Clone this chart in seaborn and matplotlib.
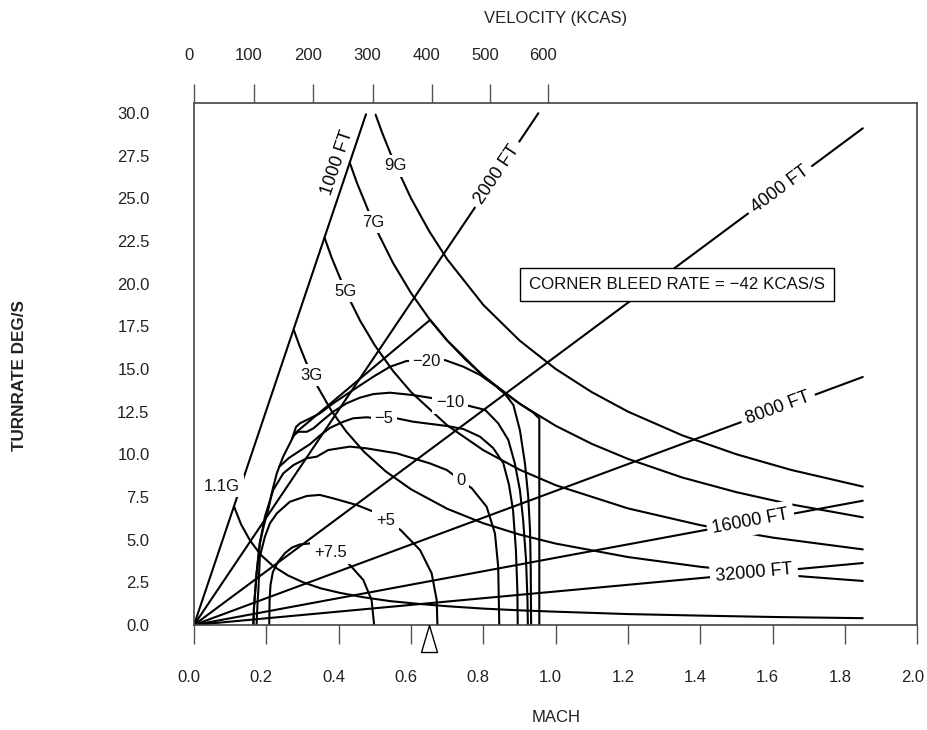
import numpy as np
import pandas as pd
import matplotlib
matplotlib.use("Agg")
import matplotlib.pyplot as plt
import seaborn as sns
from matplotlib import font_manager
from matplotlib.transforms import ScaledTranslation

# ---------------- data (Mach, turn rate deg/s) ----------------
radius_labels = ["1000 FT", "2000 FT", "4000 FT", "8000 FT", "16000 FT", "32000 FT"]
radius_end_mach = [0.4755, 0.952, 1.849, 1.849, 1.849, 1.849]
radius_end_tr = [29.92, 29.98, 29.10, 14.53, 7.28, 3.63]
radius_label_mach = [0.396, 0.837, 1.620, 1.615, 1.539, 1.548]
radius_label_tr = [27.07, 26.40, 25.50, 12.70, 6.06, 3.05]

g9_mach = [0.502, 0.52, 0.55, 0.60, 0.65, 0.70, 0.80, 0.90, 1.00, 1.10, 1.20, 1.35, 1.50, 1.65, 1.849]
g9_tr = [29.90, 28.85, 27.27, 25.00, 23.08, 21.43, 18.75, 16.67, 15.00, 13.64, 12.50, 11.11, 10.00, 9.09, 8.11]
g7_mach = [0.431, 0.45, 0.50, 0.55, 0.60, 0.65, 0.70, 0.80, 0.90, 1.00, 1.10, 1.20, 1.35, 1.50, 1.65, 1.849]
g7_tr = [27.07, 25.93, 23.34, 21.22, 19.45, 17.95, 16.67, 14.59, 12.97, 11.67, 10.61, 9.73, 8.64, 7.78, 7.07, 6.31]
g5_mach = [0.361, 0.38, 0.42, 0.46, 0.50, 0.55, 0.60, 0.70, 0.80, 0.90, 1.00, 1.20, 1.40, 1.60, 1.849]
g5_tr = [22.69, 21.55, 19.50, 17.80, 16.38, 14.89, 13.65, 11.70, 10.24, 9.10, 8.19, 6.83, 5.85, 5.12, 4.43]
g3_mach = [0.276, 0.29, 0.31, 0.34, 0.38, 0.42, 0.47, 0.53, 0.60, 0.70, 0.80, 0.90, 1.00, 1.20, 1.40, 1.60, 1.849]
g3_tr = [17.28, 16.45, 15.39, 14.03, 12.55, 11.36, 10.15, 9.00, 7.95, 6.81, 5.96, 5.30, 4.77, 3.98, 3.41, 2.98, 2.58]
g11_mach = [0.111, 0.13, 0.155, 0.185, 0.219, 0.26, 0.302, 0.35, 0.404, 0.47, 0.542, 0.62, 0.70, 0.80, 0.90, 1.00, 1.20, 1.40, 1.60, 1.849]
g11_tr = [6.93, 5.90, 4.95, 4.10, 3.45, 2.90, 2.50, 2.15, 1.88, 1.62, 1.40, 1.24, 1.10, 0.96, 0.86, 0.78, 0.64, 0.55, 0.47, 0.40]

g_labels = ["9G", "7G", "5G", "3G", "1.1G"]
g_label_mach = [0.557, 0.495, 0.420, 0.326, 0.0774]
g_label_tr = [26.90, 23.60, 19.55, 14.63, 8.14]

ps_p75_mach = [0.208, 0.209, 0.2115, 0.218, 0.232, 0.252, 0.271, 0.293, 0.325, 0.348, 0.376, 0.427, 0.468, 0.491, 0.498]
ps_p75_tr = [0.00, 1.46, 2.34, 3.10, 3.69, 4.22, 4.54, 4.72, 4.79, 4.69, 4.28, 3.61, 2.64, 1.46, 0.00]
ps_p5_mach = [0.173, 0.176, 0.178, 0.182, 0.196, 0.210, 0.229, 0.265, 0.312, 0.348, 0.385, 0.450, 0.496, 0.528, 0.571, 0.625, 0.657, 0.671, 0.673]
ps_p5_tr = [0.00, 1.46, 2.05, 4.00, 5.17, 5.96, 6.54, 7.22, 7.56, 7.62, 7.42, 7.03, 6.64, 6.15, 5.57, 4.39, 3.03, 1.46, 0.00]
ps_0_mach = [0.164, 0.166, 0.173, 0.182, 0.196, 0.219, 0.247, 0.275, 0.312, 0.339, 0.371, 0.431, 0.477, 0.560, 0.652, 0.699, 0.738, 0.768, 0.809, 0.832, 0.841, 0.844]
ps_0_tr = [0.00, 1.07, 3.03, 4.79, 6.34, 7.91, 8.89, 9.37, 9.77, 9.86, 10.25, 10.45, 10.35, 10.06, 9.47, 9.08, 8.47, 8.01, 6.93, 5.37, 3.42, 0.00]
ps_m5_mach = [0.235, 0.262, 0.292, 0.321, 0.348, 0.376, 0.413, 0.440, 0.477, 0.525, 0.560, 0.606, 0.699, 0.745, 0.791, 0.827, 0.855, 0.871, 0.882, 0.890, 0.894, 0.895]
ps_m5_tr = [9.26, 9.78, 10.20, 10.60, 11.10, 11.55, 11.91, 12.11, 12.17, 12.07, 12.11, 11.91, 11.66, 11.48, 11.03, 10.37, 9.49, 8.20, 6.74, 4.39, 2.05, 0.00]
ps_m10_mach = [0.274, 0.288, 0.312, 0.330, 0.357, 0.385, 0.422, 0.459, 0.496, 0.542, 0.606, 0.662, 0.708, 0.758, 0.805, 0.841, 0.869, 0.887, 0.901, 0.910, 0.918, 0.922, 0.923]
ps_m10_tr = [11.07, 11.32, 11.32, 11.52, 12.01, 12.50, 12.99, 13.32, 13.53, 13.61, 13.47, 13.28, 13.03, 12.85, 12.60, 11.82, 10.84, 9.47, 7.91, 6.15, 3.81, 1.46, 0.00]
ps_m20_mach = [0.271, 0.282, 0.293, 0.321, 0.348, 0.385, 0.440, 0.496, 0.542, 0.588, 0.643, 0.694, 0.745, 0.791, 0.837, 0.860, 0.883, 0.901, 0.915, 0.924, 0.929, 0.931, 0.932]
ps_m20_tr = [10.90, 11.60, 11.82, 12.11, 12.40, 12.99, 13.77, 14.55, 15.13, 15.47, 15.44, 15.52, 15.13, 14.65, 13.96, 13.53, 12.89, 11.42, 9.47, 7.52, 5.57, 3.22, 0.00]

# flight envelope: lift limit, corner, structural limit, Mach/q limit
env_mach = [0.164, 0.166, 0.173, 0.182, 0.1935, 0.205, 0.217, 0.229, 0.246, 0.265, 0.279, 0.6525, 0.70, 0.75, 0.80, 0.85, 0.90, 0.938, 0.9547, 0.9547]
env_tr = [0.00, 1.07, 3.03, 4.79, 5.86, 6.74, 7.91, 8.89, 9.84, 10.64, 11.23, 17.87, 16.67, 15.56, 14.59, 13.73, 12.97, 12.44, 12.10, 0.00]

ps_labels = ["+7.5", "+5", "0", "\u22125", "\u221210", "\u221220"]
ps_label_mach = [0.3774, 0.5294, 0.738, 0.525, 0.708, 0.643]
ps_label_tr = [4.22, 6.15, 8.47, 12.07, 13.03, 15.44]

corner_mach = [0.649]
corner_text = "CORNER BLEED RATE = \u221242 KCAS/S"
corner_box_mach, corner_box_tr = 1.3354, 19.95

mach_ticks = [0.0, 0.2, 0.4, 0.6, 0.8, 1.0, 1.2, 1.4, 1.6, 1.8, 2.0]
tr_ticks = [0.0, 2.5, 5.0, 7.5, 10.0, 12.5, 15.0, 17.5, 20.0, 22.5, 25.0, 27.5, 30.0]
kcas_labels = ["0", "100", "200", "300", "400", "500", "600"]
kcas_tick_mach = [0.0, 0.166, 0.330, 0.494, 0.658, 0.819, 0.980]

# ---------------- style ----------------
sns.set_style("white")
names = {f.name for f in font_manager.fontManager.ttflist}
BASE = "Liberation Sans" if "Liberation Sans" in names else "DejaVu Sans"
NARROW = "Liberation Sans Narrow" if "Liberation Sans Narrow" in names else BASE
plt.rcParams["font.family"] = [BASE, "DejaVu Sans"]

fig = plt.figure(figsize=(9.27, 7.30), dpi=100)
ax = fig.add_axes([194 / 927, 105 / 730, 723.4 / 927, 522.3 / 730])
ax.set_xlim(0, 2.0)
ax.set_ylim(0, 30.6)

LW = 1.5
def curve(xs, ys, lw=LW):
    sns.lineplot(x=xs, y=ys, ax=ax, color="black", linewidth=lw,
                 sort=False, estimator=None, legend=False)

# radius lines
for xe, ye in zip(radius_end_mach, radius_end_tr):
    curve([0.0, xe], [0.0, ye])

# G lines
for xs, ys in [(g9_mach, g9_tr), (g7_mach, g7_tr), (g5_mach, g5_tr),
               (g3_mach, g3_tr), (g11_mach, g11_tr)]:
    curve(xs, ys)

# Ps contours
for xs, ys in [(ps_p75_mach, ps_p75_tr), (ps_p5_mach, ps_p5_tr), (ps_0_mach, ps_0_tr),
               (ps_m5_mach, ps_m5_tr), (ps_m10_mach, ps_m10_tr), (ps_m20_mach, ps_m20_tr)]:
    curve(xs, ys)

# envelope
curve(env_mach, env_tr)

# ---------------- labels ----------------
box = dict(boxstyle="square,pad=0.22", fc="white", ec="none")
for lab, x, y, xe, ye in zip(radius_labels, radius_label_mach, radius_label_tr,
                             radius_end_mach, radius_end_tr):
    ang = np.degrees(np.arctan2(ye, xe))
    rot = ax.transData.transform_angles(np.array([ang]), np.array([[x, y]]))[0]
    ax.text(x, y, lab, rotation=rot, ha="center", va="center", fontsize=13,
            color="black", zorder=6,
            bbox=None if lab == "1000 FT" else dict(boxstyle="square,pad=0.3", fc="white", ec="none"))

for lab, x, y in zip(g_labels, g_label_mach, g_label_tr):
    ax.text(x, y, lab, ha="center", va="center", fontsize=12, family=[NARROW, BASE],
            color="#111", zorder=6, bbox=box)

for lab, x, y in zip(ps_labels, ps_label_mach, ps_label_tr):
    ax.text(x, y, lab, ha="center", va="center", fontsize=12, family=[NARROW, BASE],
            color="#111", zorder=6, bbox=box)

ax.text(corner_box_mach, corner_box_tr, corner_text, ha="center", va="center",
        fontsize=12.2, color="#111", zorder=7,
        bbox=dict(boxstyle="square,pad=0.55", fc="white", ec="black", lw=1.0))

# corner speed marker under the axis
tri = [(0, 0), (0.296, -1), (-0.296, -1), (0, 0)]
ax.plot(corner_mach, [0.0], ls="none", marker=tri, markersize=38.9,
        mfc="white", mec="black", mew=1.0, clip_on=False, zorder=8)

# ---------------- axes ----------------
SP = "#444"
for s in ax.spines.values():
    s.set_color(SP)
    s.set_linewidth(1.2)

ax.set_xticks(mach_ticks)
ax.set_xticklabels([f"{v:.1f}" for v in mach_ticks])
ax.set_yticks(tr_ticks)
ax.set_yticklabels([f"{v:.1f}" for v in tr_ticks])
ax.tick_params(axis="both", direction="out", length=13.5, width=1.0, color="#555",
               labelsize=12, labelcolor="#222")
ax.tick_params(axis="x", pad=19)
ax.tick_params(axis="y", pad=18.5)
ax.set_xlabel("MACH", fontsize=12, color="#222", labelpad=18)
ax.set_ylabel("TURNRATE DEG/S", fontsize=12.3, color="#222", fontweight="bold",
              family=[NARROW, BASE])
ax.yaxis.set_label_coords(-0.231, 0.477)

ax2 = ax.twiny()
ax2.set_xlim(ax.get_xlim())
ax2.set_xticks(kcas_tick_mach)
ax2.set_xticklabels(kcas_labels)
ax2.tick_params(axis="x", direction="out", length=13.5, width=1.0, color="#555",
                labelsize=12, labelcolor="#222", pad=15)
ax2.set_xlabel("VELOCITY (KCAS)", fontsize=12, color="#222", labelpad=18)
for s in ax2.spines.values():
    s.set_visible(False)

fig.canvas.draw()
shift = ScaledTranslation(-5 / 100, 0, fig.dpi_scale_trans)
for lab in ax.get_xticklabels() + ax2.get_xticklabels():
    lab.set_transform(lab.get_transform() + shift)

fig.savefig("out.png", dpi=100, facecolor="white")
